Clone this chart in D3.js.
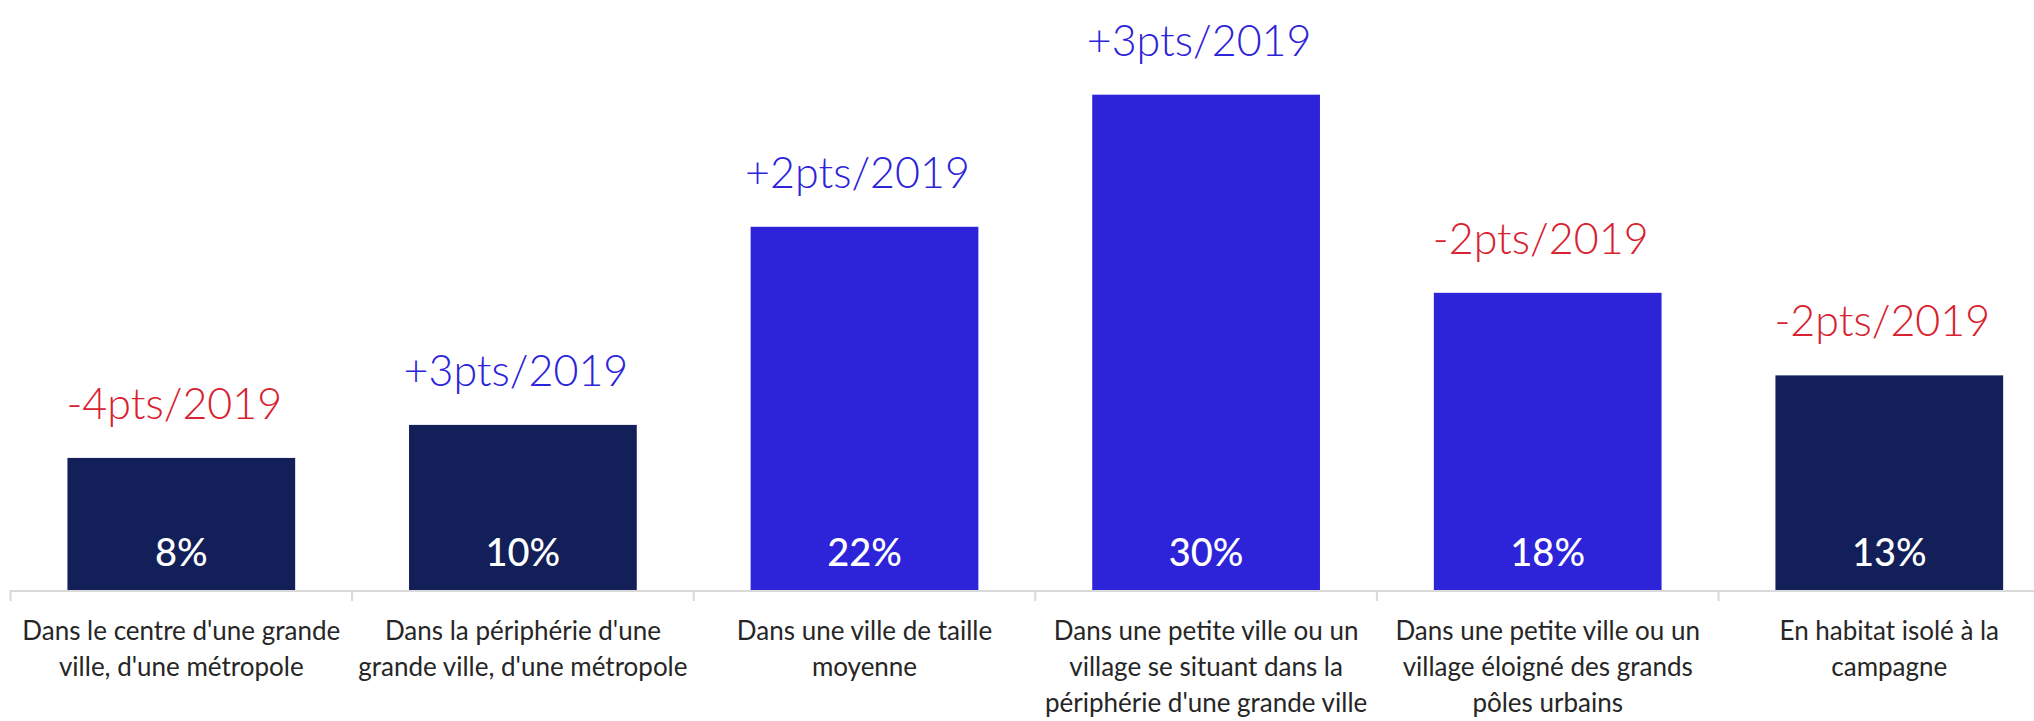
<!DOCTYPE html>
<html>
<head>
<meta charset="utf-8">
<script src="https://cdn.jsdelivr.net/npm/d3@7"></script>
<style>
  html, body { margin: 0; padding: 0; background: #ffffff; }
  svg { display: block; }
</style>
</head>
<body>
<div id="chart"></div>
<script>
// ---- Data ----
const categories = [
  "Dans le centre d'une grande ville, d'une métropole",
  "Dans la périphérie d'une grande ville, d'une métropole",
  "Dans une ville de taille moyenne",
  "Dans une petite ville ou un village se situant dans la périphérie d'une grande ville",
  "Dans une petite ville ou un village éloigné des grands pôles urbains",
  "En habitat isolé à la campagne"
];
const categoryLines = [
  ["Dans le centre d'une grande", "ville, d'une métropole"],
  ["Dans la périphérie d'une", "grande ville, d'une métropole"],
  ["Dans une ville de taille", "moyenne"],
  ["Dans une petite ville ou un", "village se situant dans la", "périphérie d'une grande ville"],
  ["Dans une petite ville ou un", "village éloigné des grands", "pôles urbains"],
  ["En habitat isolé à la", "campagne"]
];
const values = [8, 10, 22, 30, 18, 13];
const deltas = [-4, 3, 2, 3, -2, -2];
const highlighted = [false, false, true, true, true, false];

// ---- Layout ----
const W = 2034, H = 721;
const baseY = 590;
const topY = 94.7;
const x0 = 10.5, step = 341.6;

const svg = d3.select("#chart").append("svg")
  .attr("width", W).attr("height", H)
  .style("background", "#ffffff");

const x = d3.scaleBand()
  .domain(categories)
  .range([x0, x0 + step * categories.length])
  .paddingInner(1 / 3)
  .paddingOuter(1 / 6);

const y = d3.scaleLinear()
  .domain([0, 30])
  .range([baseY, topY]);

const NAVY = "#121f59", BLUE = "#2d23d9", RED = "#d8222f", GREY = "#d9d9d9";
const FONT = "Lato, 'Open Sans', sans-serif";

const data = categories.map((c, i) => ({
  cat: c, lines: categoryLines[i], value: values[i], delta: deltas[i], hi: highlighted[i]
}));

// axis line + boundary ticks
const axisG = svg.append("g");
axisG.append("line")
  .attr("x1", x.range()[0]).attr("x2", W)
  .attr("y1", baseY + 1).attr("y2", baseY + 1)
  .attr("stroke", GREY).attr("stroke-width", 2);
const boundaries = d3.range(categories.length + 1).map(i => x.range()[0] + i * x.step());
axisG.selectAll("line.tick").data(boundaries.filter(b => b < W)).join("line")
  .attr("class", "tick")
  .attr("x1", d => d).attr("x2", d => d)
  .attr("y1", baseY).attr("y2", baseY + 11)
  .attr("stroke", GREY).attr("stroke-width", 2);

// bars
svg.selectAll("rect.bar").data(data).join("rect")
  .attr("class", "bar")
  .attr("x", d => x(d.cat))
  .attr("width", x.bandwidth())
  .attr("y", d => y(d.value))
  .attr("height", d => y(0) - y(d.value))
  .attr("fill", d => d.hi ? BLUE : NAVY);

// value labels
svg.selectAll("text.val").data(data).join("text")
  .attr("class", "val")
  .attr("x", d => x(d.cat) + x.bandwidth() / 2)
  .attr("y", baseY - 24)
  .attr("text-anchor", "middle")
  .attr("fill", "#ffffff")
  .attr("font-family", FONT)
  .attr("font-weight", 500)
  .attr("font-size", 38)
  .text(d => d.value + "%");

// delta labels
svg.selectAll("text.delta").data(data).join("text")
  .attr("class", "delta")
  .attr("x", d => x(d.cat) + x.bandwidth() / 2 - 7)
  .attr("y", d => y(d.value) - 39)
  .attr("text-anchor", "middle")
  .attr("fill", d => d.delta < 0 ? RED : BLUE)
  .attr("font-family", FONT)
  .attr("font-weight", 300)
  .attr("font-size", 43)
  .text(d => (d.delta > 0 ? "+" : "") + d.delta + "pts/2019");

// category labels
const catG = svg.selectAll("text.cat").data(data).join("text")
  .attr("class", "cat")
  .attr("x", d => x(d.cat) + x.bandwidth() / 2)
  .attr("y", 639.5)
  .attr("text-anchor", "middle")
  .attr("fill", "#262626")
  .attr("font-family", FONT)
  .attr("font-size", 26);
catG.selectAll("tspan").data(d => d.lines).join("tspan")
  .attr("x", function () { return d3.select(this.parentNode).attr("x"); })
  .attr("dy", (d, i) => i === 0 ? 0 : 36.3)
  .text(d => d);
</script>
</body>
</html>
